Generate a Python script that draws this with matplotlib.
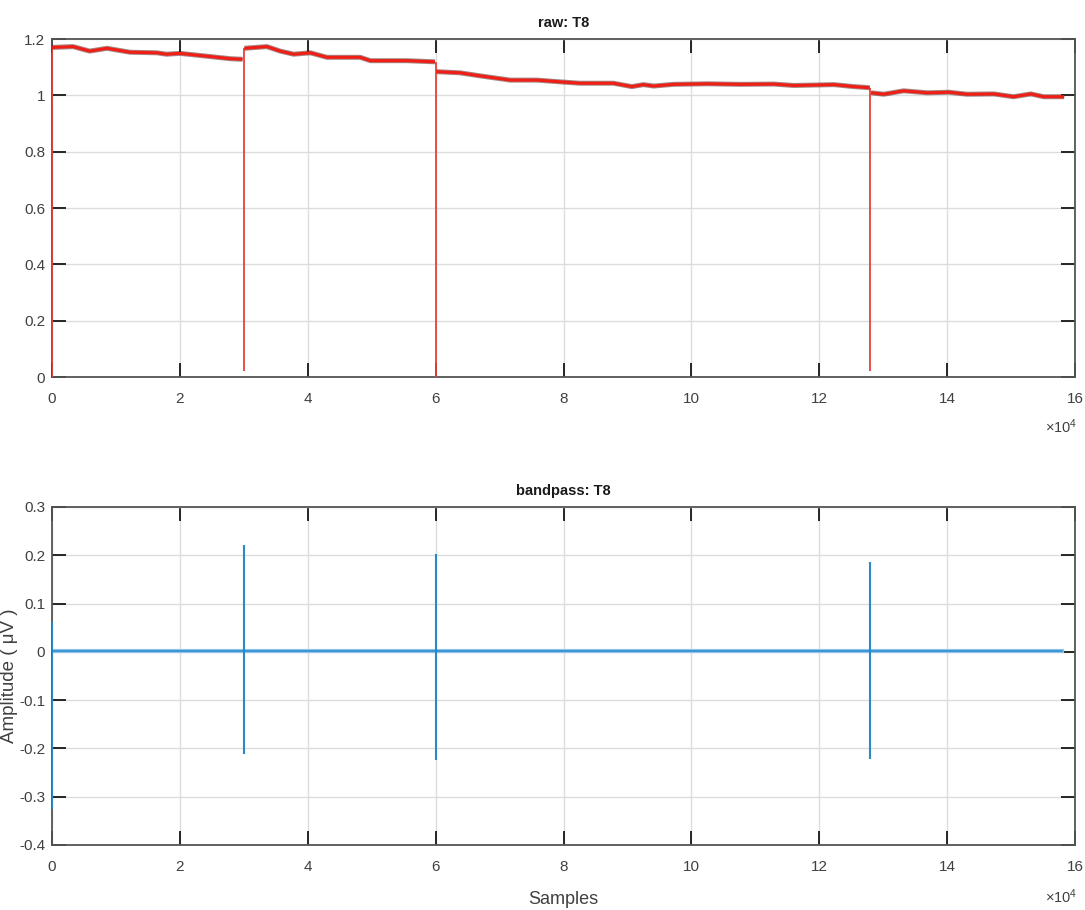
import matplotlib
matplotlib.use("Agg")
import matplotlib.pyplot as plt
from matplotlib.ticker import FuncFormatter

plt.rcParams['font.family'] = ['Liberation Sans', 'DejaVu Sans']
plt.rcParams['axes.unicode_minus'] = False
plt.rcParams['mathtext.default'] = 'regular'

# ---------------- data ----------------
titles = ["raw: T8", "bandpass: T8"]
x_label = "Samples"
y_label_bp = "Amplitude ( \u03bcV )"

# raw trace, four level segments separated by dropouts
raw_seg1_x = [0, 3300, 5900, 8600, 12200, 16400, 17900, 20000, 24200, 27900, 29800]
raw_seg1_y = [1.170, 1.173, 1.157, 1.167, 1.153, 1.151, 1.146, 1.149, 1.139, 1.130, 1.128]
raw_seg2_x = [30100, 33600, 35700, 37800, 40400, 43000, 48200, 49800, 55500, 59900]
raw_seg2_y = [1.167, 1.173, 1.157, 1.146, 1.151, 1.135, 1.135, 1.123, 1.123, 1.119]
raw_seg3_x = [60100, 63800, 67000, 71700, 75900, 80000, 82600, 87800, 90700, 92500,
              94100, 97200, 102500, 107700, 112900, 116000, 122300, 125400, 127900]
raw_seg3_y = [1.084, 1.080, 1.069, 1.054, 1.054, 1.047, 1.043, 1.043, 1.031, 1.038,
              1.033, 1.039, 1.041, 1.039, 1.040, 1.035, 1.038, 1.031, 1.027]
raw_seg4_x = [128100, 130100, 133200, 136900, 140300, 143100, 147300, 150400, 153100, 155100, 158300]
raw_seg4_y = [1.009, 1.004, 1.016, 1.009, 1.011, 1.004, 1.005, 0.995, 1.005, 0.995, 0.995]

# dropouts in raw trace
raw_drop_x = [0, 30000, 60000, 128000]
raw_drop_low = [0.0, 0.02, 0.0, 0.02]
raw_drop_high = [1.170, 1.167, 1.119, 1.027]

# bandpass trace: baseline and transient spikes
bp_base_x = [0, 158000]
bp_base_y = [0.002, 0.002]
bp_spike_x = [0, 30000, 60000, 128000]
bp_spike_top = [0.061, 0.222, 0.203, 0.187]
bp_spike_bottom = [-0.325, -0.211, -0.224, -0.222]

x_ticks = [0, 20000, 40000, 60000, 80000, 100000, 120000, 140000, 160000]
raw_y_ticks = [0, 0.2, 0.4, 0.6, 0.8, 1.0, 1.2]
bp_y_ticks = [-0.4, -0.3, -0.2, -0.1, 0, 0.1, 0.2, 0.3]

# ---------------- figure ----------------
W, H = 1085, 910
fig = plt.figure(figsize=(W / 100, H / 100), dpi=100)

def fx(px):
    return px / W

def fy(py):
    return 1 - py / H

left, right = 52, 1075
ax1 = fig.add_axes([fx(left), fy(377), fx(right - left), (377 - 39) / H])
ax2 = fig.add_axes([fx(left), fy(845), fx(right - left), (845 - 507) / H])

tick_color = '#404040'
xfmt = FuncFormatter(lambda v, p: f"{v / 1e4:g}")
yfmt = FuncFormatter(lambda v, p: f"{v:g}")

def style(ax, yticks, ylim):
    ax.set_xlim(0, 160000)
    ax.set_ylim(*ylim)
    ax.set_xticks(x_ticks)
    ax.set_yticks(yticks)
    ax.xaxis.set_major_formatter(xfmt)
    ax.yaxis.set_major_formatter(yfmt)
    ax.grid(True, color='#dcdcdc', linewidth=1.0)
    ax.set_axisbelow(True)
    ax.tick_params(direction='in', length=10, width=1.4, colors='#262626',
                   labelcolor=tick_color, labelsize=11, top=True, right=True)
    ax.tick_params(axis='x', pad=11)
    ax.tick_params(axis='y', pad=5)
    for s in ax.spines.values():
        s.set_color('#555555')
        s.set_linewidth(1.3)

# --- raw
for sx, sy in [(raw_seg1_x, raw_seg1_y), (raw_seg2_x, raw_seg2_y),
               (raw_seg3_x, raw_seg3_y), (raw_seg4_x, raw_seg4_y)]:
    ax1.plot(sx, sy, color='#4a0e0e', linewidth=3.6, alpha=0.5, solid_capstyle='butt', zorder=3)
    ax1.plot(sx, sy, color='#f01e14', linewidth=2.2, solid_capstyle='butt', zorder=4)
ax1.vlines(raw_drop_x, raw_drop_low, raw_drop_high, color='#e8403a', linewidth=1.3, zorder=3)
style(ax1, raw_y_ticks, (0, 1.2))
ax1.set_title(titles[0], fontsize=10.5, fontweight='bold', pad=9, color='#1a1a1a')

# --- bandpass
ax2.plot(bp_base_x, bp_base_y, color='#8cc4ea', linewidth=3.0, zorder=3)
ax2.plot(bp_base_x, bp_base_y, color='#2f8fd0', linewidth=1.2, zorder=4)
ax2.vlines(bp_spike_x, bp_spike_bottom, bp_spike_top, color='#2a8ac4', linewidth=1.5, zorder=4)
style(ax2, bp_y_ticks, (-0.4, 0.3))
ax2.set_title(titles[1], fontsize=10.5, fontweight='bold', pad=9, color='#1a1a1a')
ax2.set_xlabel(x_label, fontsize=13, color=tick_color, labelpad=12)

# y label of bandpass (partly cut at figure edge as in reference)
fig.text(fx(14), fy(676), y_label_bp, rotation=90, rotation_mode='anchor',
         ha='center', va='baseline', fontsize=13.5, color='#404040')

# x10^4 exponent labels
for py in (433, 903):
    fig.text(fx(1077), fy(py), r'$\times10^{4}$', ha='right', va='baseline',
             fontsize=10.5, color=tick_color)

fig.savefig('out.png', dpi=100, facecolor='white')
